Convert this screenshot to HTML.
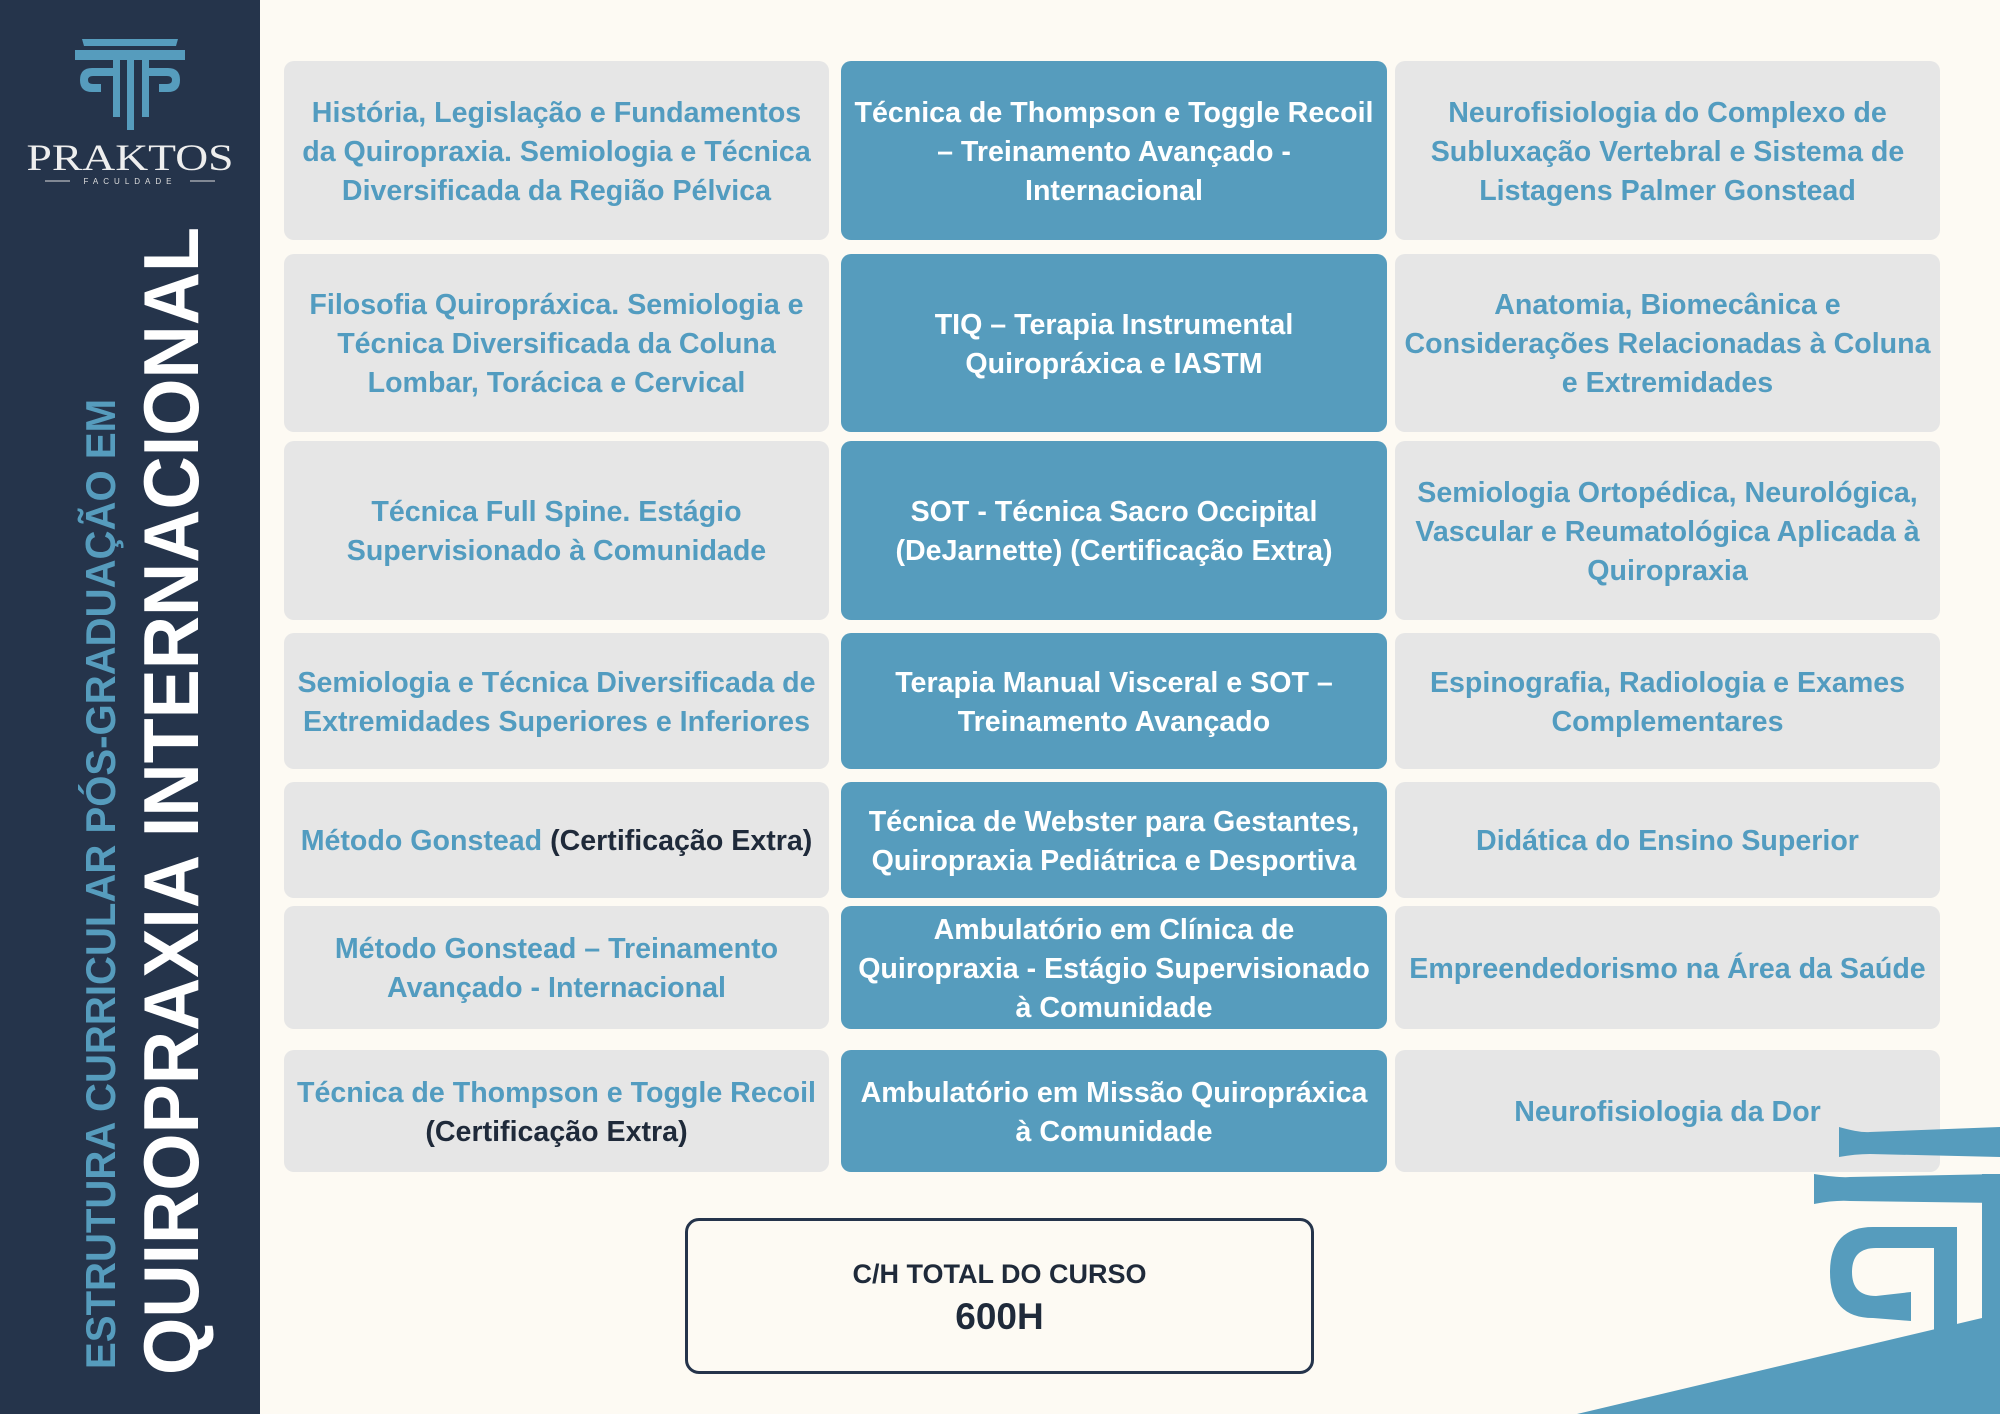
<!DOCTYPE html>
<html><head><meta charset="utf-8"><style>
*{margin:0;padding:0;box-sizing:border-box}
body{width:2000px;height:1414px;background:#fdfaf3;position:relative;overflow:hidden;font-family:"Liberation Sans",sans-serif}
#side{position:absolute;left:0;top:0;width:260px;height:1414px;background:#25344b}
.c{position:absolute;display:flex;align-items:center;justify-content:center;text-align:center;font-weight:bold;font-size:28.6px;line-height:39px;border-radius:10px;padding:3px 2px 0;white-space:nowrap}
.l{background:#e6e6e6;color:#529cc0}
.b{background:#569cbd;color:#fff}
.k{color:#1f2a3a}
</style></head><body>
<div id="side">
<svg width="260" height="1414" style="position:absolute;left:0;top:0">
 <g fill="#569cbd">
  <path d="M82 39 L178 39 L176 46 L84 46 Z"/>
  <rect x="75" y="50" width="110" height="10"/>
  <path d="M113 60 L120 60 L120 117 L113 117 Z"/>
  <path d="M127 60 L134 60 L134 130 L127 130 Z"/>
  <path d="M142 60 L149 60 L149 117 L142 117 Z"/>
  <path d="M113 68 L92 68 Q80 68 80 80 Q80 92 92 92 L101 92 L101 84 L93 84 Q88 84 88 80 Q88 76 93 76 L113 76 Z"/>
  <path d="M149 68 L168 68 Q180 68 180 80 Q180 92 168 92 L159 92 L159 84 L167 84 Q172 84 172 80 Q172 76 167 76 L149 76 Z"/>
 </g>
 <text x="130" y="170" text-anchor="middle" fill="#eeeeee" font-family="Liberation Serif,serif" font-size="37" textLength="207" lengthAdjust="spacingAndGlyphs">PRAKTOS</text>
 <line x1="45" y1="181" x2="70" y2="181" stroke="#ddd" stroke-width="1"/>
 <line x1="190" y1="181" x2="215" y2="181" stroke="#ddd" stroke-width="1"/>
 <text x="130" y="184" text-anchor="middle" fill="#ddd" font-size="8" letter-spacing="5">FACULDADE</text>
 <text transform="translate(198,1375) rotate(-90)" fill="#ffffff" font-weight="bold" font-size="78" textLength="1148" lengthAdjust="spacingAndGlyphs">QUIROPRAXIA INTERNACIONAL</text>
 <text transform="translate(115,1369) rotate(-90)" fill="#569cbd" font-weight="bold" font-size="42" textLength="970" lengthAdjust="spacingAndGlyphs">ESTRUTURA CURRICULAR PÓS-GRADUAÇÃO EM</text>
</svg>
</div>

<div class="c l" style="left:284px;top:61px;width:545px;height:179px">História, Legislação e Fundamentos<br>da Quiropraxia. Semiologia e Técnica<br>Diversificada da Região Pélvica</div>
<div class="c b" style="left:841px;top:61px;width:546px;height:179px">Técnica de Thompson e Toggle Recoil<br>– Treinamento Avançado -<br>Internacional</div>
<div class="c l" style="left:1395px;top:61px;width:545px;height:179px">Neurofisiologia do Complexo de<br>Subluxação Vertebral e Sistema de<br>Listagens Palmer Gonstead</div>

<div class="c l" style="left:284px;top:254px;width:545px;height:178px">Filosofia Quiropráxica. Semiologia e<br>Técnica Diversificada da Coluna<br>Lombar, Torácica e Cervical</div>
<div class="c b" style="left:841px;top:254px;width:546px;height:178px">TIQ – Terapia Instrumental<br>Quiropráxica e IASTM</div>
<div class="c l" style="left:1395px;top:254px;width:545px;height:178px">Anatomia, Biomecânica e<br>Considerações Relacionadas à Coluna<br>e Extremidades</div>

<div class="c l" style="left:284px;top:441px;width:545px;height:179px">Técnica Full Spine. Estágio<br>Supervisionado à Comunidade</div>
<div class="c b" style="left:841px;top:441px;width:546px;height:179px">SOT - Técnica Sacro Occipital<br>(DeJarnette) (Certificação Extra)</div>
<div class="c l" style="left:1395px;top:441px;width:545px;height:179px">Semiologia Ortopédica, Neurológica,<br>Vascular e Reumatológica Aplicada à<br>Quiropraxia</div>

<div class="c l" style="left:284px;top:633px;width:545px;height:136px">Semiologia e Técnica Diversificada de<br>Extremidades Superiores e Inferiores</div>
<div class="c b" style="left:841px;top:633px;width:546px;height:136px">Terapia Manual Visceral e SOT –<br>Treinamento Avançado</div>
<div class="c l" style="left:1395px;top:633px;width:545px;height:136px">Espinografia, Radiologia e Exames<br>Complementares</div>

<div class="c l" style="left:284px;top:782px;width:545px;height:116px"><span>Método Gonstead <span class="k">(Certificação Extra)</span></span></div>
<div class="c b" style="left:841px;top:782px;width:546px;height:116px">Técnica de Webster para Gestantes,<br>Quiropraxia Pediátrica e Desportiva</div>
<div class="c l" style="left:1395px;top:782px;width:545px;height:116px">Didática do Ensino Superior</div>

<div class="c l" style="left:284px;top:906px;width:545px;height:123px">Método Gonstead – Treinamento<br>Avançado - Internacional</div>
<div class="c b" style="left:841px;top:906px;width:546px;height:123px">Ambulatório em Clínica de<br>Quiropraxia - Estágio Supervisionado<br>à Comunidade</div>
<div class="c l" style="left:1395px;top:906px;width:545px;height:123px">Empreendedorismo na Área da Saúde</div>

<div class="c l" style="left:284px;top:1050px;width:545px;height:122px"><span>Técnica de Thompson e Toggle Recoil<br><span class="k">(Certificação Extra)</span></span></div>
<div class="c b" style="left:841px;top:1050px;width:546px;height:122px">Ambulatório em Missão Quiropráxica<br>à Comunidade</div>
<div class="c l" style="left:1395px;top:1050px;width:545px;height:122px">Neurofisiologia da Dor</div>

<svg width="2000" height="1414" style="position:absolute;left:0;top:0">
 <path d="M1577 1414 L1982 1318 L2000 1314 L2000 1414 Z" fill="#569cbd"/>
 <path d="M1839 1127 Q1860 1133 1870 1132 L2000 1127 L2000 1157 L1870 1154 Q1855 1154 1839 1157 Z" fill="#569cbd"/>
 <path d="M1814 1174 Q1840 1178 1850 1177 L2000 1174 L2000 1203 L1850 1201 Q1835 1200 1814 1204 Z" fill="#569cbd"/>
 <rect x="1982" y="1174" width="18" height="240" fill="#569cbd"/>
 <rect x="1934" y="1227" width="23" height="187" fill="#569cbd"/>
 <path d="M1934 1227 L1873 1227 Q1830 1227 1830 1272 Q1830 1318 1873 1318 L1911 1321 L1911 1292 L1876 1296 Q1852 1296 1852 1272 Q1852 1248 1876 1248 L1934 1248 Z" fill="#569cbd"/>
</svg>

<div style="position:absolute;left:685px;top:1218px;width:629px;height:156px;border:3px solid #25344b;border-radius:14px;background:#fdfaf3;text-align:center;color:#1f2a3a;font-weight:bold">
 <div style="font-size:27px;margin-top:38px">C/H TOTAL DO CURSO</div>
 <div style="font-size:37px;margin-top:6px">600H</div>
</div>
</body></html>
